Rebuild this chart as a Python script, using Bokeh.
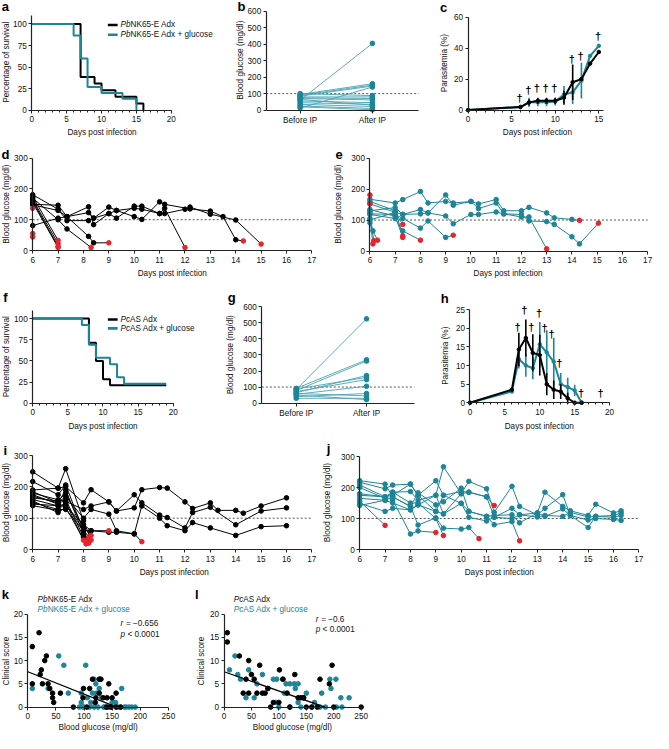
import math
from bokeh.plotting import figure
from bokeh.layouts import column, row
from bokeh.models import Range1d, FixedTicker, Label, BoxAnnotation
from bokeh.embed import file_html
from bokeh.resources import INLINE
from bokeh.core.properties import value

# ---------------- data ----------------
THRESHOLD = 100

# a: survival, PbNK65-E
a_blk_days = [0, 7, 9, 10, 12, 15, 16]
a_blk_surv = [100, 38.5, 30.8, 23.1, 15.4, 7.7, 0]
a_tl_days = [0, 6, 7, 8, 10, 13, 15]
a_tl_surv = [100, 86.7, 60, 26.7, 20, 13.3, 0]

# b: glucose before / after IP, PbNK65-E
b_before = [60, 95, 90, 85, 12, 100, 80, 70, 55, 45, 35, 25, 20, 65, 75]
b_after = [405, 160, 152, 146, 140, 88, 80, 62, 45, 35, 22, 10, 2, 30, 70]
ip_labels = {0: "Before IP", 1: "After IP"}

# c: parasitemia, PbNK65-E
c_days = [0, 6, 7, 8, 9, 10, 11, 12, 13, 14, 15]
c_blk = [0, 2, 5, 6, 6, 6, 8, 18, 20, 30, 37.5]
c_blk_err = [0, 0, 2, 2, 2, 2, 4.5, 11.5, 0, 0, 0]
c_tl = [0, 2, 5, 5, 5, 5.5, 10, 11.5, 19, 35, 41.5]
c_tl_err = [0, 0, 3, 2.5, 2.5, 2.5, 5.5, 7.5, 11.5, 0, 0]
c_dag_x = [5.9, 6.9, 7.9, 8.9, 9.9, 11.9, 12.9, 14.9]
c_dag_y = [7.6, 13, 14, 14, 14, 33, 35, 47.8]

# d: individual glucose, PbNK65-E Adx
d_days = [[6, 7], [6, 7], [6, 7], [6, 7],
          [6, 7, 7.35, 8.2, 8.4, 9],
          [6, 7, 7.35, 8.3],
          [6, 7, 7.35, 8.2, 8.4, 9, 9.3, 10, 10.3, 11, 11.2, 12],
          [6, 7, 7.35, 8.2, 8.4, 9, 9.3, 10, 10.3, 11, 11.2, 12.2, 13, 13.5, 14, 14.3],
          [6, 7, 7.35, 8.2, 8.4, 9, 9.3, 10, 10.3, 11, 11.2, 12, 12.2, 13, 14, 15],
          [6], [6], [6]]
d_vals = [[175, 33], [165, 23], [160, 14], [155, 10],
          [150, 147, 110, 46, 25, 25],
          [170, 100, 70, 10],
          [148, 130, 110, 142, 84, 120, 130, 137, 134, 120, 137, 10],
          [81, 105, 110, 123, 105, 141, 130, 110, 101, 158, 150, 135, 128, 110, 35, 31],
          [181, 134, 97, 97, 105, 120, 105, 144, 144, 120, 120, 134, 141, 118, 99, 21],
          [137], [55], [44]]
d_died = [True] * 12

# e: individual glucose, PbNK65-E Adx + glucose
e_days = [[6, 6.12], [6, 6.15], [6, 6.12, 6.3],
          [6, 7, 7.3], [6, 7, 7.3], [6, 7, 7.3, 8], [6, 7, 7.3],
          [6, 7, 7.3, 8, 8.3, 9, 9.3],
          [6, 7, 7.3, 8, 8.3, 9, 9.3, 10, 10.3, 11, 11.3, 12, 12.3, 13, 13.3, 14, 14.3],
          [6, 7, 7.3, 8, 8.3, 9, 9.3, 10, 10.3, 11, 11.3, 12, 12.3, 13, 13.3, 14, 14.3, 15.05],
          [6, 7, 7.3, 8, 8.3, 9, 9.3, 10, 10.3, 11, 11.3, 12, 12.3, 13],
          [6], [6]]
e_vals = [[105, 23], [126, 33], [91, 65, 35],
          [134, 112, 44], [160, 130, 49], [118, 105, 65, 35], [152, 125, 86],
          [120, 118, 105, 74, 97, 44, 51],
          [167, 155, 166, 192, 155, 160, 155, 160, 152, 166, 130, 130, 141, 123, 107, 102, 99],
          [130, 140, 118, 134, 123, 181, 148, 160, 137, 155, 120, 118, 97, 95, 86, 46, 23, 90],
          [100, 125, 118, 120, 123, 113, 88, 118, 118, 126, 120, 110, 110, 7],
          [181], [152]]
e_died = [True] * 13

# f: survival, PcAS
f_blk_days = [0, 8, 9, 10, 11, 19]
f_blk_surv = [100, 71.4, 50, 28.6, 21.4, 21.4]
f_tl_days = [0, 7, 8, 9, 11, 12, 13, 19]
f_tl_surv = [100, 92.3, 69.2, 53.8, 46.2, 30.8, 23.1, 23.1]

# g: glucose before / after IP, PcAS
g_before = [85, 92, 78, 65, 88, 72, 55, 40, 60, 30, 50]
g_after = [525, 270, 262, 172, 160, 146, 105, 60, 45, 30, 22]

# h: parasitemia, PcAS
h_days = [0, 6, 7, 8, 9, 10, 11, 12, 13, 14, 15, 16]
h_blk = [0, 3.5, 14.3, 17.4, 13.4, 12.8, 5, 3.5, 3, 1.2, 0, 0]
h_blk_err = [0, 0, 4.5, 5, 5, 5.5, 3, 2.5, 2, 1.5, 0, 0]
h_tl = [0, 3, 11.7, 10, 9.3, 15.7, 13.5, 11, 5, 4.2, 3.3, 0]
h_tl_err = [0, 0, 2.5, 3, 3, 6, 6, 6.5, 3, 2.5, 1.5, 0]
h_dag_x = [6.8, 7.8, 8.8, 9.9, 10.7, 11.7, 12.8, 15.9, 18.7]
h_dag_y = [20.4, 24.8, 20.4, 24, 20, 18.5, 10.8, 2.7, 2.7]

# i: individual glucose, PcAS Adx
i_days = [[6, 7, 7.3, 8, 8.3], [6, 7, 7.3, 8, 8.2],
          [6, 7, 7.3, 8, 8.3, 9, 9.3, 10, 10.3, 11, 11.3, 12, 12.3, 13, 13.3, 14, 14.3, 15, 16],
          [6, 7, 7.3, 8, 8.3, 9, 9.3, 10, 10.3, 11, 11.3, 12, 12.3, 13, 14, 15, 16],
          [6, 7, 7.3, 8, 8.3, 9, 9.3, 10, 10.3, 11, 11.3, 12, 12.3, 13, 14, 15, 16],
          [6, 7, 7.3, 8, 8.3, 9], [6, 7, 7.3, 8, 8.3, 9, 9.3, 10, 10.3],
          [6, 7, 7.3, 8, 8.2], [6, 7, 7.3, 8, 8.2], [6, 7, 7.3, 8.1], [6, 7, 7.3, 8.2],
          [6, 7, 7.3, 8, 8.3], [6, 7, 7.3, 8]]
i_vals = [[248, 196, 258, 92, 30], [217, 175, 206, 60, 20],
          [190, 196, 201, 149, 191, 152, 123, 133, 191, 198, 196, 152, 131, 149, 125, 125, 116, 139, 165],
          [180, 159, 154, 128, 139, 152, 123, 175, 149, 110, 102, 69, 118, 135, 79, 123, 133],
          [170, 149, 170, 100, 128, 113, 60, 50, 139, 100, 76, 60, 86, 69, 45, 73, 76],
          [160, 139, 139, 80, 60, 60], [150, 128, 128, 60, 60, 55, 55, 50, 25],
          [185, 150, 190, 50, 35], [175, 145, 160, 40, 25], [155, 118, 135, 18], [145, 140, 145, 40],
          [165, 155, 180, 70, 45], [140, 125, 150, 30]]
i_died = [True, True, False, False, False, True, True, True, True, True, True, True, True]

# j: individual glucose, PcAS Adx + glucose
j_full = [6, 7, 7.3, 8, 8.3, 9, 9.3, 10, 10.3, 11, 11.3, 12, 12.3, 13, 13.3, 14, 14.3, 15, 15.3, 16, 16.3]
j_days = [j_full, j_full, j_full, j_full,
          [6, 7], [6, 7, 7.3, 8, 8.3, 9],
          [6, 7, 7.3, 8, 8.3, 9, 9.3, 10, 10.3, 10.7],
          [6, 7, 7.3, 8, 8.3, 9, 9.3, 10, 10.3, 11, 11.3],
          [6, 7, 7.3, 8, 8.3, 9, 9.3, 10, 10.3, 11, 11.3, 12, 12.3],
          [6, 7, 7.3, 8, 8.3, 9, 9.3]]
j_vals = [[217, 196, 208, 211, 175, 222, 175, 187, 185, 170, 104, 133, 112, 118, 185, 139, 125, 110, 146, 118, 125],
          [180, 170, 185, 187, 159, 175, 267, 180, 220, 196, 120, 204, 139, 112, 133, 177, 110, 71, 107, 110, 118],
          [165, 159, 170, 139, 183, 144, 154, 198, 123, 107, 110, 112, 86, 118, 107, 131, 110, 95, 100, 97, 94],
          [149, 123, 133, 128, 144, 123, 115, 149, 104, 92, 104, 100, 112, 105, 110, 107, 120, 105, 107, 104, 110],
          [156, 78], [208, 170, 160, 50, 60, 55],
          [222, 211, 170, 139, 79, 102, 69, 66, 71, 35],
          [142, 159, 150, 128, 144, 175, 115, 180, 185, 170, 142],
          [175, 170, 175, 211, 175, 123, 175, 149, 123, 107, 80, 90, 28],
          [200, 165, 185, 150, 150, 100, 45]]
j_died = [False, False, False, False, True, True, True, True, True, True]

# k: clinical score vs glucose, PbNK65-E
k_blk_x = [8, 20, 8, 22, 24, 30, 33, 26, 36, 39, 44, 46, 44, 58, 81, 98, 99, 110, 115, 121, 127, 127, 134, 144, 141, 150, 157, 157, 165, 120, 130, 140, 148, 105]
k_blk_y = [13, 16, 5, 7, 8, 10, 11, 5, 5, 4, 2, 1, 3, 3, 0, 2, 4, 4, 6, 2, 3, 6, 2, 5, 2, 2, 3, 0, 0, 1, 6, 0, 0, 0]
k_tl_x = [8, 36, 55, 64, 72, 92, 95, 95, 103, 106, 112, 115, 118, 121, 122, 127, 128, 131, 136, 143, 150, 156, 167, 172, 180, 191, 100, 110, 125, 135, 145, 160, 165, 175, 185, 98, 118, 140]
k_tl_y = [4, 4, 11, 9, 3, 0, 1, 3, 9, 2, 1, 3, 6, 5, 3, 4, 6, 2, 0, 0, 1, 1, 4, 0, 0, 0, 0, 0, 0, 0, 0, 0, 0, 0, 0, 0, 0, 0]
k_fit_intercept = 7.6
k_fit_xzero = 158

# l: clinical score vs glucose, PcAS
l_blk_x = [6, 6, 28, 45, 65, 55, 40, 50, 35, 45, 60, 70, 75, 80, 85, 101, 107, 129, 100, 115, 140, 145, 175, 192, 197, 150, 160, 120, 90, 200, 170, 135, 145, 250]
l_blk_y = [16, 14, 11, 10, 9, 6, 6, 7, 3, 3, 3, 3, 3, 4, 0, 8, 6, 7, 1, 3, 2, 2, 6, 5, 9, 0, 0, 0, 1, 0, 0, 2, 2, 0]
l_tl_x = [10, 20, 25, 30, 40, 45, 55, 60, 70, 80, 90, 96, 108, 113, 120, 128, 135, 110, 130, 150, 178, 193, 204, 195, 213, 228, 100, 120, 140, 160, 175, 185, 205, 215, 95, 135, 165]
l_tl_y = [8, 11, 7, 6, 2, 8, 2, 5, 7, 4, 6, 6, 6, 5, 5, 5, 5, 3, 4, 3, 3, 6, 6, 4, 2, 2, 0, 0, 0, 0, 0, 0, 0, 0, 1, 1, 1]
l_fit_intercept = 7.6
l_fit_xzero = 184

# ---------------- style ----------------
SX = 653 / 669
SY = 733 / 749
FONT = "Liberation Sans"
FS = "8.2px"
TEAL = "#1d8598"
TEAL_L = "#4aa3b4"
RED = "#e3262d"
AXC = "#222222"
TXT = "#111111"
DAYS = "Days post infection"
GLU = "Blood glucose (mg/dl)"


def panel(box, xmap, ymap):
    """Figure whose plotting frame covers the whole box; axes are fixed inside it."""
    X0, Y0, X1, Y1 = box
    cx0, cy0, cx1, cy1 = round(X0 * SX), round(Y0 * SY), round(X1 * SX), round(Y1 * SY)
    (xv0, xp0), (xv1, xp1) = xmap
    (yv0, yp0), (yv1, yp1) = ymap
    bx = (xp1 - xp0) / (xv1 - xv0)
    by = (yp1 - yp0) / (yv1 - yv0)
    xr = Range1d(xv0 + (cx0 / SX - xp0) / bx, xv0 + (cx1 / SX - xp0) / bx)
    yr = Range1d(yv0 + (cy1 / SY - yp0) / by, yv0 + (cy0 / SY - yp0) / by)
    p = figure(width=cx1 - cx0, height=cy1 - cy0, x_range=xr, y_range=yr,
               min_border_left=0, min_border_right=0, min_border_top=0, min_border_bottom=0,
               output_backend="svg", toolbar_location=None)
    p.grid.visible = False
    p.outline_line_color = None
    return p, (cx0, cy1)


def label(p, fr, rx, ry, text, size=FS, color=TXT, style="normal", align="left", angle=0):
    FL, FB = fr
    p.add_layout(Label(x=rx * SX - FL, y=FB - ry * SY, x_units="screen", y_units="screen",
                       text=text, text_font=FONT, text_font_size=size, text_color=color,
                       text_font_style=style, text_align=align, text_baseline="middle", angle=angle))


def axes(p, fr, xticks, yticks, xlabel, ylabel, xb, yb, xfix, yfix, xminor=None, xover=None):
    xa, ya = p.xaxis[0], p.yaxis[0]
    xa.ticker = FixedTicker(ticks=xticks, minor_ticks=xminor or [])
    ya.ticker = FixedTicker(ticks=yticks, minor_ticks=[])
    xa.bounds = xb
    ya.bounds = yb
    xa.fixed_location = yfix
    ya.fixed_location = xfix
    if xover:
        xa.major_label_overrides = xover
    for a in (xa, ya):
        a.axis_line_color = AXC
        a.axis_line_width = 1.2
        a.major_tick_line_color = AXC
        a.major_tick_in = 0
        a.major_tick_out = 3
        a.minor_tick_line_color = AXC
        a.minor_tick_in = 0
        a.minor_tick_out = 2
        a.major_label_text_font = FONT
        a.major_label_text_font_size = FS
        a.major_label_text_color = TXT
    xa.major_label_standoff = 3
    ya.major_label_standoff = 2
    if xlabel:
        label(p, fr, xlabel[1], xlabel[2], xlabel[0], align="center")
    if ylabel:
        label(p, fr, ylabel[1], ylabel[2], ylabel[0], align="center", angle=math.pi / 2)


def letter(p, fr, rx, ry, text):
    label(p, fr, rx, ry, text, size="13px", style="bold", align="center", color="#000000")


def legend_line(p, fr, rx0, rx1, ry, color):
    FL, FB = fr
    yc = FB - ry * SY
    p.add_layout(BoxAnnotation(left=rx0 * SX - FL, right=rx1 * SX - FL, bottom=yc - 1.3, top=yc + 1.3,
                               left_units="screen", right_units="screen",
                               top_units="screen", bottom_units="screen",
                               fill_color=color, fill_alpha=1, line_color=None))


def trajectories(p, days, vals, died, color):
    p.multi_line(xs=days, ys=vals, line_color=color, line_width=1)
    ax, ay, rx, ry = [], [], [], []
    for ds, vs, dd in zip(days, vals, died):
        for k, (x, y) in enumerate(zip(ds, vs)):
            if dd and k == len(ds) - 1:
                rx.append(x); ry.append(y)
            else:
                ax.append(x); ay.append(y)
    p.scatter(ax, ay, size=4.6, color=color)
    p.scatter(rx, ry, size=4.6, color=RED)


def dotted(p, xb):
    p.line(x=list(xb), y=[THRESHOLD, THRESHOLD], line_dash="2 2", line_color="#555555", line_width=1)


def error_series(p, days, mean, err, color):
    lo = [m - e for m, e in zip(mean, err)]
    hi = [m + e for m, e in zip(mean, err)]
    p.segment(x0=days, y0=lo, x1=days, y1=hi, line_color=color, line_width=1.6)
    p.line(days, mean, line_color=color, line_width=2)
    p.scatter(days, mean, size=3.5, color=color)


def daggers(p, xs, ys):
    p.text(x=xs, y=ys, text=["\u2020"] * len(xs), text_font=value(FONT), text_font_size="11px",
           text_font_style="bold", text_align="center", text_baseline="middle", text_color="#000000")


def survival_panel(box, xmap, ymap, bd, bs, td, ts, names, pre, let, lpos, leg_y, xl, yl):
    p, fr = panel(box, xmap, ymap)
    axes(p, fr, [0, 5, 10, 15, 20], [0, 25, 50, 75, 100], (DAYS,) + xl, ("Percentage of survival",) + yl,
         (0, 20), (0, 110), 0, 0, xminor=list(range(0, 21)))
    p.step(bd, bs, mode="after", line_color="#000000", line_width=2)
    p.step(td, ts, mode="after", line_color=TEAL, line_width=2)
    letter(p, fr, lpos[0], lpos[1], let)
    legend_line(p, fr, 110, 120, leg_y[0], "#000000")
    legend_line(p, fr, 110, 120, leg_y[1], TEAL)
    label(p, fr, 123, leg_y[0], pre, style="italic")
    label(p, fr, 123 + names[2], leg_y[0], names[0])
    label(p, fr, 123, leg_y[1], pre, style="italic")
    label(p, fr, 123 + names[2], leg_y[1], names[1])
    return p


def ip_panel(box, xmap, ymap, xb, before, after, let, lpos, yl):
    p, fr = panel(box, xmap, ymap)
    axes(p, fr, [0, 1], [0, 100, 200, 300, 400, 500, 600], None, (GLU,) + yl,
         xb, (0, 600), xb[0], 0, xover=ip_labels)
    dotted(p, xb)
    p.segment(x0=[0] * len(before), y0=before, x1=[1] * len(after), y1=after,
              line_color=TEAL_L, line_width=0.9)
    p.scatter([0] * len(before), before, size=4.6, color=TEAL)
    p.scatter([1] * len(after), after, size=4.6, color=TEAL)
    letter(p, fr, lpos[0], lpos[1], let)
    return p


def para_panel(box, xmap, ymap, yticks, xb, yb, days, blk, blk_err, tl, tl_err, dx, dy, let, lpos, xl, yl):
    p, fr = panel(box, xmap, ymap)
    axes(p, fr, [t for t in [0, 5, 10, 15, 20] if t <= xb[1]], yticks,
         (DAYS,) + xl, ("Parasitemia (%)",) + yl, xb, yb, 0, 0,
         xminor=list(range(0, int(xb[1]) + 1)))
    error_series(p, days, tl, tl_err, TEAL)
    error_series(p, days, blk, blk_err, "#000000")
    daggers(p, dx, dy)
    letter(p, fr, lpos[0], lpos[1], let)
    return p


def glucose_panel(box, xmap, ymap, days, vals, died, color, let, lpos, xl, yl):
    p, fr = panel(box, xmap, ymap)
    axes(p, fr, list(range(6, 18)), [0, 100, 200, 300], (DAYS,) + xl, (GLU,) + yl,
         (6, 17), (0, 300), 6, 0)
    dotted(p, (6, 17))
    trajectories(p, days, vals, died, color)
    letter(p, fr, lpos[0], lpos[1], let)
    return p


def score_panel(box, xmap, ymap, bx, by, tx, ty, icpt, xzero, pre, name, let, lpos, tx0, rtxt, rpos,
                pre_w, xl, yl):
    p, fr = panel(box, xmap, ymap)
    axes(p, fr, [0, 50, 100, 150, 200, 250], [0, 5, 10, 15, 20], (GLU,) + xl, ("Clinical score",) + yl,
         (0, 250), (0, 20), 0, 0)
    p.scatter(tx, ty, size=4.6, color=TEAL)
    p.scatter(bx, by, size=4.6, color="#000000")
    p.line([0, xzero], [icpt, 0], line_color="#000000", line_width=1.2)
    letter(p, fr, lpos[0], lpos[1], let)
    label(p, fr, tx0, 612, pre, style="italic")
    label(p, fr, tx0 + pre_w, 612, name)
    label(p, fr, tx0, 622, pre, style="italic", color=TEAL)
    label(p, fr, tx0 + pre_w, 622, name + " + glucose", color=TEAL)
    label(p, fr, rpos[0], rpos[1], "r", style="italic")
    label(p, fr, rpos[0] + 5.5, rpos[1], rtxt)
    label(p, fr, rpos[0], rpos[2], "p", style="italic")
    label(p, fr, rpos[0] + 7, rpos[2], "< 0.0001")
    return p


# ---------------- panels ----------------
pa = survival_panel((0, 0, 222, 145), ((0, 32), (20, 175)), ((0, 112), (100, 24)),
                    a_blk_days, a_blk_surv, a_tl_days, a_tl_surv,
                    ("NK65-E Adx", "NK65-E Adx + glucose", 10.3), "Pb", "a", (5, 6), (25, 35),
                    (104, 135), (6, 63))

pb = ip_panel((222, 0, 440, 145), ((0, 307), (1, 381)), ((0, 112), (600, 11)),
              (-0.47, 1.64), b_before, b_after, "b", (247, 6), (246, 61))

pc = para_panel((440, 0, 669, 145), ((0, 479), (15, 613)), ((0, 112), (60, 17)), [0, 20, 40, 60],
                (0, 15.5), (0, 60), c_days, c_blk, c_blk_err, c_tl, c_tl_err, c_dag_x, c_dag_y,
                "c", (454, 7), (550, 135), (455, 64))

pd_ = glucose_panel((0, 145, 329, 290), ((6, 33), (17, 319)), ((0, 255.5), (300, 161)),
                    d_days, d_vals, d_died, "#000000", "d", (5, 157), (176, 279), (6, 208))
pe = glucose_panel((329, 145, 669, 290), ((6, 378.5), (17, 663)), ((0, 256), (300, 161)),
                   e_days, e_vals, e_died, TEAL, "e", (347, 157), (520, 279), (346, 208))

pf = survival_panel((0, 290, 222, 445), ((0, 33), (20, 177)), ((0, 411.7), (100, 325)),
                    f_blk_days, f_blk_surv, f_tl_days, f_tl_surv,
                    ("AS Adx", "AS Adx + glucose", 9.8), "Pc", "f", (5, 303), (326, 335),
                    (105, 435), (6, 364))

pg = ip_panel((222, 290, 440, 445), ((0, 303), (1, 375)), ((0, 411.4), (600, 313)),
              (-0.49, 1.68), g_before, g_after, "g", (237, 303), (236, 362))

ph = para_panel((440, 290, 669, 445), ((0, 481), (20, 624)), ((0, 411), (25, 316)), [0, 5, 10, 15, 20, 25],
                (0, 20), (0, 25), h_days, h_blk, h_blk_err, h_tl, h_tl_err, h_dag_x, h_dag_y,
                "h", (455, 304), (552, 435), (456, 363))

pi = glucose_panel((0, 445, 329, 595), ((6, 33), (7, 59)), ((0, 561), (300, 465)),
                   i_days, i_vals, i_died, "#000000", "i", (5, 460), (178, 584), (6, 513))
pj = glucose_panel((329, 445, 669, 595), ((6, 368), (7, 394)), ((0, 561), (300, 466)),
                   j_days, j_vals, j_died, TEAL, "j", (336, 458), (511, 584), (335, 513))

pk = score_panel((0, 595, 197, 749), ((0, 28), (250, 172)), ((0, 722), (20, 627)),
                 k_blk_x, k_blk_y, k_tl_x, k_tl_y, k_fit_intercept, k_fit_xzero,
                 "Pb", "NK65-E Adx", "k", (5, 607), 38, "= \u22120.656", (123, 637, 648), 10.3,
                 (100, 743), (6, 675))
pl = score_panel((197, 595, 669, 749), ((0, 229), (250, 369.5)), ((0, 722), (20, 627)),
                 l_blk_x, l_blk_y, l_tl_x, l_tl_y, l_fit_intercept, l_fit_xzero,
                 "Pc", "AS Adx", "l", (201, 607), 239, "= \u22120.6", (323, 633, 643), 9.8,
                 (299, 743), (206, 675))

layout = column(row(pa, pb, pc), row(pd_, pe), row(pf, pg, ph), row(pi, pj), row(pk, pl))
open("out.html", "w").write(file_html(layout, INLINE))
